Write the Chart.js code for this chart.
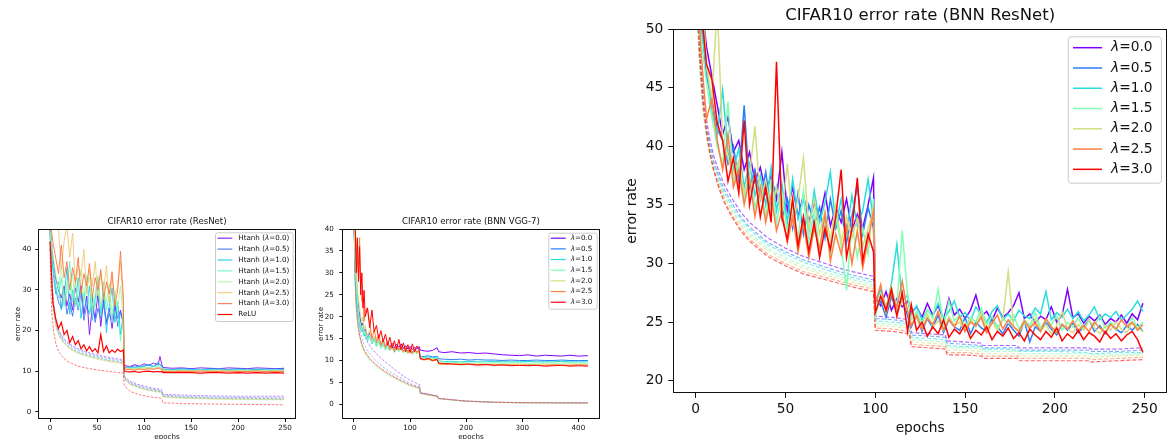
<!DOCTYPE html>
<html>
<head>
<meta charset="utf-8">
<script src="https://cdn.jsdelivr.net/npm/chart.js@4.4.1/dist/chart.umd.min.js"></script>
<style>
  html, body { margin: 0; padding: 0; background: #fff; }
  #figure { position: relative; width: 1167px; height: 439px; overflow: hidden; }
  #figure canvas { position: absolute; left: 0; top: 0; }
</style>
</head>
<body>
<div id="figure">
  <canvas id="resnetChart" width="1167" height="439"></canvas>
  <canvas id="vggChart" width="1167" height="439"></canvas>
  <canvas id="bnnResnetChart" width="1167" height="439"></canvas>
</div>
<script>
// ---- data: CIFAR10 error rate (ResNet) ----
const lambdaLabels = ['0.0', '0.5', '1.0', '1.5', '2.0', '2.5', '3.0'];

const resEpochs = [0,3,6,9,12,15,18,21,24,27,30,33,36,39,42,45,48,51,54,57,60,63,66,69,72,75,78,79,85,90,95,100,105,110,115,117,119,120,130,140,150,160,170,180,190,200,210,220,230,240,249];
const resHtanh00 = [46,38,33,30,28,31,26,29,25,30.5,27,31,24,28.5,19,26,23,29,21,27.5,22,25.5,20.5,26,23,25,21.5,11.4,11.1,11.6,11.2,11.8,11.4,12,11.6,13.6,11.5,10.9,10.7,10.8,10.6,10.8,10.7,10.6,10.8,10.7,10.6,10.8,10.7,10.6,10.7];
const resHtanh05 = [45,36,30.5,27,25.5,30.5,24,27,23.5,28,25,29.5,22.5,26,24,28,22,25.5,23,26.5,21.5,24,22.5,27,21,24.5,22,11,10.9,11.3,11,11.2,11.5,11.1,11.8,11.6,11.2,10.5,10.4,10.6,10.5,10.4,10.6,10.5,10.4,10.6,10.5,10.4,10.5,10.6,10.5];
const resHtanh10 = [44,35,29,32,25,28,35.5,24,30,26,33,23,29,25.5,31,22.5,28,33,24,29.5,19.5,26,30.5,22,27,19,24,10.8,11,10.8,11.1,11.3,11.6,11.2,12.2,11.5,11.1,10.4,10.3,10.5,10.4,10.3,10.4,10.5,10.3,10.4,10.3,10.5,10.4,10.3,10.4];
const resHtanh15 = [44,37,31,28,33,26,30,37,27,32,25.5,30,28,33.5,24,29,26,31,23.5,32,25,28.5,22,29,24,17.5,23,10.7,10.8,10.6,10.9,11,10.8,11.1,11.3,11,10.9,10.3,10.2,10.3,10.2,10.3,10.2,10.3,10.2,10.3,10.2,10.2,10.3,10.2,10.2];
const resHtanh20 = [45,39,34,30,36,27,32,29,34,26,31,35,27,30.5,33,25,29,33.5,26,30,27,31.5,24,28.5,26,31,22,10.6,10.7,10.5,10.8,10.7,10.9,10.6,11,10.8,10.7,10.2,10.1,10.2,10.1,10.2,10.1,10.2,10.1,10.1,10.2,10.1,10.1,10.2,10.1];
const resHtanh25 = [48,45,47,45,35,42,46,38,44,31,36,33.5,40,29,35,31,37,28.5,34,30,36,27,33,28.5,31,37,26,10.5,10.6,10.4,10.7,10.5,10.8,10.6,10.9,10.7,10.6,10.1,10,10.1,10,10.1,10,10.1,10,10.1,10,10.1,10,10.1,10];
const resHtanh30 = [47,42,38,34,41,33,37,30,35.5,32,38,29,34,31,36.5,28,33,30,35,27.5,32,29,34.5,26,30,39.5,28,10.3,10.4,10.2,10.5,10.3,10.6,10.4,10.7,10.5,10.4,9.9,9.9,10,9.9,10,9.9,9.9,10,9.9,9.9,10,9.9,9.9,9.9];
const resRelu = [42,27,23,20.5,22,19,20,17,18.5,16.5,17.5,15.5,16.5,15,16,14.8,15.5,14.5,19,14.8,16.2,14.5,15.2,14.6,15.4,14.8,15.2,9.9,9.8,9.9,9.7,9.9,10,9.8,9.9,9.8,9.9,9.6,9.6,9.7,9.6,9.5,9.6,9.6,9.5,9.6,9.5,9.6,9.5,9.6,9.5];

const resTrainEpochs = [0,1,2,4,6,8,10,14,18,24,30,40,50,60,70,78,79,85,95,105,118,119,120,140,170,200,249];
const resHtanhTrain00 = [46,38,32,26.5,23,21,19.8,18.2,17.2,16.2,15.5,14.6,14,13.5,13.1,12.8,8.8,7.5,6.6,6,5.5,5.3,4.3,4.1,3.9,3.8,3.8];
const resHtanhTrain05 = [45.5,37.5,31.5,26,22.5,20.6,19.4,17.9,16.9,15.9,15.2,14.3,13.7,13.2,12.8,12.5,8.5,7.2,6.3,5.7,5.2,5,4.1,3.8,3.6,3.5,3.4];
const resHtanhTrain10 = [45,37,31,25.5,22,20.2,19,17.5,16.5,15.5,14.8,14,13.4,12.9,12.5,12.2,8.3,7,6.1,5.5,5,4.8,3.9,3.6,3.4,3.3,3.2];
const resHtanhTrain15 = [44.5,36.5,30.5,25,21.6,19.8,18.7,17.2,16.2,15.2,14.5,13.7,13.1,12.6,12.2,11.9,8.1,6.8,5.9,5.3,4.8,4.6,3.7,3.4,3.2,3.1,3];
const resHtanhTrain20 = [44.5,36,30,24.7,21.4,19.6,18.5,17,16,15,14.3,13.5,12.9,12.4,12,11.8,8,6.7,5.8,5.2,4.7,4.5,3.6,3.3,3.1,3,2.9];
const resHtanhTrain25 = [45,36.5,30.3,24.9,21.5,19.7,18.6,17.1,16.1,15.1,14.4,13.6,13,12.5,12.1,11.8,8,6.7,5.8,5.2,4.7,4.5,3.6,3.3,3.1,3,2.95];
const resHtanhTrain30 = [45,37,30.8,25.2,21.8,20,18.8,17.3,16.3,15.3,14.6,13.8,13.2,12.7,12.3,12,8.2,6.9,6,5.4,4.9,4.7,3.8,3.5,3.3,3.2,3.1];
const resReluTrain = [40,30,24,19.5,17,15.5,14.5,13.3,12.5,11.8,11.2,10.7,10.3,10,9.7,9.5,6.5,5,4.2,3.7,3.3,3.1,2.2,2,1.9,1.8,1.7];

const resXTicks = [0, 50, 100, 150, 200, 250];
const resYTicks = [0, 10, 20, 30, 40];

// ---- data: CIFAR10 error rate (BNN VGG-7) ----
const vggEpochs = [0,2,4,6,8,10,12,14,16,18,20,24,28,32,36,40,44,48,52,56,60,64,68,72,76,80,84,88,92,96,100,104,108,112,116,118,125,132,140,148,151,160,175,190,205,220,235,250,265,280,295,310,325,340,355,370,385,400,417];
const vggLam00 = [41,34,29,25,22,20.5,19,18,18.5,16.8,17.2,15.5,16.3,14.6,15.3,14,15,13.5,14.5,13.2,14.1,13,14,12.8,13.7,13,13.8,12.7,13.4,12.6,13.2,12.5,13,12.6,13.2,12.4,12.2,12.1,12.3,12.9,12,11.8,12,11.7,11.8,11.6,11.7,11.5,11.3,11.2,11.1,11.3,11,11.2,11.1,11,11.2,11,11.1];
const vggLam05 = [40,32,27,23,21,19.5,18,17,17.5,16,16.5,15,15.8,14.2,15,13.6,14.5,13,14,12.8,13.5,12.6,13.3,12.3,13,12.4,13,12.2,12.8,12,12.6,11.9,12.5,12,12.4,11,10.9,11.1,10.8,11,10.4,10.3,10.2,10.3,10.1,10.2,10.1,10.1,10,10.1,10,10,10.1,10,10,10.1,10,10,10];
const vggLam10 = [41,31,26,22,20,18,17,16.5,17,15.5,16,14.5,15.5,13.8,14.8,13.2,14.3,12.8,13.7,12.4,13.2,12.2,13,11.9,12.8,12.1,12.7,11.8,12.5,11.7,12.4,11.6,12.2,11.7,12.1,10.8,10.7,10.8,10.6,10.8,9.9,9.8,9.8,9.7,9.8,9.7,9.7,9.8,9.7,9.7,9.7,9.8,9.7,9.7,9.7,9.8,9.7,9.7,9.7];
const vggLam15 = [42,33,28,24,21,19,18,17,18,16,16.5,14.8,15.8,14,15,13.3,14.5,12.8,13.8,12.5,13.3,12.2,13,11.8,12.7,12,12.6,11.7,12.4,11.5,12.2,11.4,12,11.5,12,10.6,10.5,10.6,10.4,10.5,9.7,9.6,9.5,9.6,9.4,9.5,9.4,9.5,9.4,9.4,9.5,9.4,9.4,9.5,9.4,9.4,9.5,9.4,9.4];
const vggLam20 = [43,35,30,26,24,22,20,18.5,20,17,18,15.5,17,14.5,15.5,13.8,15,13.2,14.3,12.8,13.8,12.3,13.5,12,13,12.2,13,11.8,12.7,11.6,12.5,11.5,12.4,11.6,12.2,10.4,10.3,10.4,10.2,10.4,9.4,9.3,9.2,9.3,9.1,9.2,9.1,9.2,9.1,9.1,9.2,9.1,9.1,9.2,9.1,9.1,9.2,9.1,9.1];
const vggLam25 = [44,40,36,33,30,38,26,23.5,24,19,21,22,18.5,15,17,14.5,16,13.5,15,13,14.5,12.5,14,12,13.5,12.5,13.5,12,13,11.8,12.8,11.5,12.7,11.8,12.5,10.3,10.1,10.3,9.9,10.1,9.2,9.1,9.2,9,9.1,8.9,9,9,8.9,9,8.9,9,8.9,8.9,9,8.9,8.9,9,8.9];
const vggLam30 = [45,42,30,38,28,36,25,30,22,26,20,22,17.5,21.5,16.5,18,15,16.8,14.2,16,13.5,15.3,12.8,14.5,12.5,14.8,12.4,14,12,13.6,11.8,13.8,12,13.3,12.5,10.5,10.2,10.5,10,10.3,9.4,9.3,9.2,9.1,9.2,9,9.1,8.9,9,8.8,8.9,8.8,8.9,8.7,8.8,8.9,8.7,8.8,8.7];

const vggTrainEpochs = [1,2,4,6,8,10,14,18,24,30,40,50,60,70,80,90,100,110,117,118,130,149,150,175,200,250,300,417];
const vggTrain00 = [36,31,26,23,21,19.5,17.3,15.8,14.2,13,11.5,10.3,9.2,8.2,7.2,6.3,5.5,4.9,4.5,2.7,2.4,1.9,1.4,1.05,0.75,0.5,0.38,0.33];
const vggTrain05 = [35,29.5,24,20.5,18.5,17,15,13.6,12.3,11.2,9.8,8.7,7.8,7,6.2,5.5,4.8,4.3,4,2.6,2.3,1.85,1.35,1,0.72,0.47,0.36,0.32];
const vggTrain10 = [34,28,22,19,17,15.5,13.5,12.2,11,10,8.8,7.8,7,6.2,5.5,4.9,4.3,3.9,3.6,2.5,2.2,1.8,1.3,1,0.7,0.45,0.35,0.3];
const vggTrain15 = [33.5,27.5,21.6,18.6,16.6,15.1,13.2,11.9,10.7,9.7,8.5,7.5,6.7,6,5.3,4.7,4.1,3.7,3.4,2.3,2.1,1.7,1.25,0.95,0.68,0.43,0.33,0.28];
const vggTrain20 = [33.8,27.8,21.8,18.8,16.8,15.3,13.3,12,10.8,9.8,8.6,7.6,6.8,6.1,5.4,4.8,4.2,3.8,3.5,2.4,2.15,1.75,1.28,0.98,0.69,0.44,0.34,0.29];
const vggTrain25 = [34.2,28.2,22.2,19.2,17.2,15.6,13.6,12.3,11.1,10.1,8.9,7.9,7.1,6.3,5.6,5,4.4,4,3.7,2.55,2.25,1.82,1.32,1.02,0.72,0.46,0.36,0.31];
const vggTrain30 = [34.5,28.5,22.5,19.4,17.4,15.8,13.8,12.4,11.2,10.2,9,8,7.2,6.4,5.7,5.1,4.5,4.05,3.75,2.6,2.3,1.85,1.35,1.03,0.73,0.47,0.37,0.32];

const vggXTicks = [0, 100, 200, 300, 400];
const vggYTicks = [0, 5, 10, 15, 20, 25, 30, 35, 40];

// ---- data: CIFAR10 error rate (BNN ResNet) ----
const bnnEpochs = [0,3,6,9,12,15,18,21,24,27,30,33,36,39,42,45,48,51,54,57,60,63,66,69,72,75,78,81,84,87,90,93,96,99,
  100,103,106,109,112,115,118,
  120,123,126,129,132,135,138,141,144,147,150,153,156,159,162,165,168,171,174,177,180,183,186,189,192,195,198,201,204,207,210,213,216,219,222,225,228,231,234,237,240,243,246,249];
const bnnLam00 = [60,53,48.5,46,43.5,41,42.5,39.5,40.5,38,39.5,37,38.2,36,37.5,35.5,39.5,34.5,36.5,34,35.8,33.5,35.2,33.8,36,33.2,34.8,33.5,35.5,32.8,34.2,33,35,37.3,
  27.2,26.4,27.6,26,27,26.3,26.8,
  25.8,26.3,25.4,26.6,25.6,26.4,25.2,27,25.6,26.1,25.3,26,27.3,25.5,25.9,25.1,26.2,25.4,25.8,26.4,27.5,25.3,25.7,24.9,25.5,25.2,26.3,25,25.6,27.8,25.4,25.7,24.9,25.5,25.1,25.6,24.8,25.3,25,25.6,24.9,25.7,25.2,26.6];
const bnnLam05 = [58,51,46,44,41.5,40.5,38.5,40,37,43.5,36.5,38,35.5,37.8,34.5,36.5,33.8,35.5,33,36,32.5,35,33.3,34.8,32.2,35.5,33,34.5,31.8,34,36.7,32.5,34.8,33,
  26,26.8,25.4,27.2,25.8,27,25.5,
  24.6,25.5,24.2,25.3,24.5,25.6,24.1,25.2,24.6,24.3,25.4,24,25,24.5,24.2,25.3,24.6,24,24.9,24.3,23.8,25.1,23.3,24.6,24.2,25,24.4,23.9,24.8,24.3,24.9,24.1,24.6,25.2,24.2,24.7,24,24.9,24.4,24.1,24.7,24.3,24.8,24.2];
const bnnLam10 = [57,50,47,43,41,44.8,39.5,38,39.8,36.5,38.5,35.8,37.5,35,38.2,34.5,36.8,33.5,37.2,33.8,35.5,32.8,36.2,33.5,35.2,37.8,33.2,35.5,32.5,35.8,33.2,34.5,37.2,33.5,
  26.5,27.8,26.2,28.3,31.6,26.8,27.3,
  25.6,26.4,25.2,26,25.5,26.6,25.3,25.9,26.8,25.4,25.8,25.1,26.3,25.6,25,25.9,26.4,25.2,25.7,25.1,26,25.5,25.3,26.2,25.7,27.6,25.2,25.8,25.4,26.1,25.3,25.9,25.1,25.6,26.3,25.2,25.7,25.4,25.9,25.2,25.6,26.1,26.8,25.9];
const bnnLam15 = [56,49,45.5,42.5,40,38.5,43.8,37,38.5,35.5,37.5,34.8,36.5,34,37,33.5,35.8,32.8,35,32,36.2,31.8,34.5,31.2,33.8,30.8,34.2,31.5,27.7,33.5,30.5,33,30.8,35.5,
  25.5,27.3,26,27.8,26.3,32.8,27.2,
  25.2,25.9,24.8,26.1,25.3,27.8,24.7,26.8,25.1,25.6,24.6,25.4,25,26.2,24.8,25.5,24.5,25.3,24.9,25.6,24.4,25.2,24.7,25.8,24.5,25.1,24.8,25.5,24.3,25,24.6,25.4,24.4,25.1,24.7,25.5,24.5,25,24.3,25.2,24.6,25.4,24.5,25];
const bnnLam20 = [60,55,47,44,52,40.5,39,37.5,38.8,36,37.5,41.7,35.5,37,34.5,36.5,34,38.5,33.5,35.5,39,33,35.5,32.5,34.5,32,35,31.8,34,32.2,33.8,31.5,33,34.5,
  26,27.2,26.3,28,25.6,26.8,26.1,
  24.8,25.4,24.4,25.7,24.6,25.1,24.3,25.5,24.7,25,24.2,25.3,24.6,25.8,24.4,25,24.3,25.2,29.3,24.6,24.1,25,24.4,25.3,24.2,24.8,24,24.7,25.9,24.4,24.1,24.8,24.3,25.2,24.5,24,24.7,24.3,25,24.4,24.1,24.9,24.5,24.2];
const bnnLam25 = [56,48,42.3,44,40.5,38,41,36.5,38,35,37.2,34,36.5,33.5,35.8,32.8,34.5,31.8,34,31,33.5,30.5,33,31.2,34.2,30.2,32.5,30.8,33.2,30,32.8,29.6,32,34.5,
  26.5,28.2,25.8,27.5,26.2,28.5,25.9,
  24.7,25.6,24.4,25.3,24.8,25.9,24.3,25.2,24.6,25.5,24.2,25,24.7,25.4,24.1,24.9,25.6,24.4,25.2,24.6,24.2,25.1,24.5,24.9,24.2,25.3,24.6,24.1,24.8,24.4,25.1,24.3,24.7,24.2,25,24.5,24.1,24.8,24.4,25.2,24.6,25,24.3,24.8];
const bnnLam30 = [57,52,47,45.7,42,40.5,37,39,36,42.2,35,37.5,34,36.5,33.5,47.2,34,32,35.5,31.5,34,31,33.5,30.5,33,31.2,34,38,30.5,33,37.3,30.2,32.5,31,
  25.8,27.2,26,27.8,25.5,27.5,24.2,
  26.5,24.3,25,23.8,24.6,24,25.2,23.7,24.4,24,24.8,23.6,24.3,23.9,24.6,23.5,24.2,23.8,24.5,23.6,24.1,23.4,24.4,23.9,23.5,24.2,23.7,24.5,23.4,24,23.6,24.3,23.5,24.1,23.8,23.3,24.2,23.6,24,23.4,23.9,24.2,23.5,22.4];

const bnnTrainEpochs = [1,2,4,6,8,10,13,16,20,25,30,40,50,60,70,80,90,99,100,110,119,120,130,139,140,150,159,160,170,179,180,200,219,220,235,249];
const bnnTrain00 = [53,49,45,42.3,40.5,39.2,37.8,36.7,35.6,34.4,33.5,32.2,31.3,30.6,30.1,29.6,29.2,28.9,25.5,25.4,25.2,24.1,24,23.9,23.4,23.3,23.2,23,23,23,22.8,22.8,22.8,22.7,22.7,22.8];
const bnnTrain05 = [52,48,44,41.6,40,38.7,37.4,36.3,35.2,34,33.1,31.8,31,30.3,29.8,29.3,28.9,28.6,25.3,25.2,25,23.9,23.8,23.7,23.2,23.1,23,22.8,22.8,22.8,22.6,22.6,22.6,22.5,22.5,22.6];
const bnnTrain10 = [51.5,47.5,43.5,41.2,39.6,38.4,37.1,36,34.9,33.8,32.9,31.6,30.8,30.1,29.6,29.1,28.7,28.4,25.1,25,24.8,23.7,23.6,23.5,23,22.9,22.9,22.7,22.7,22.6,22.5,22.5,22.4,22.3,22.4,22.4];
const bnnTrain15 = [51,47,43,40.8,39.2,38,36.8,35.7,34.6,33.5,32.6,31.3,30.5,29.8,29.3,28.9,28.5,28.2,24.9,24.8,24.6,23.5,23.4,23.3,22.8,22.8,22.7,22.5,22.5,22.5,22.3,22.3,22.3,22.2,22.2,22.3];
const bnnTrain20 = [51.5,47.5,43.3,41,39.3,38.1,36.8,35.6,34.5,33.3,32.4,31.1,30.3,29.6,29.1,28.7,28.3,28,24.7,24.6,24.5,23.3,23.2,23.1,22.6,22.6,22.5,22.3,22.3,22.3,22.1,22.1,22.1,22,22.1,22.2];
const bnnTrain25 = [52,48,43.5,41,39.2,37.9,36.5,35.3,34.2,33,32.1,30.8,30,29.3,28.9,28.5,28.1,27.8,24.5,24.4,24.2,23.1,23,22.9,22.4,22.4,22.3,22.1,22.1,22.1,21.9,21.9,21.9,21.8,21.9,22];
const bnnTrain30 = [53,48.5,44,41.3,39.4,38,36.4,35.2,34,32.8,31.9,30.6,29.8,29.1,28.7,28.3,27.9,27.6,24.3,24.2,24,22.9,22.8,22.7,22.2,22.2,22.1,21.9,21.9,21.9,21.7,21.7,21.7,21.6,21.7,21.8];

const bnnXTicks = [0, 50, 100, 150, 200, 250];
const bnnYTicks = [20, 25, 30, 35, 40, 45, 50];

// ---- helpers ----
const FONT = '"DejaVu Sans", "Liberation Sans", sans-serif';
const INK = '#111';

// matplotlib "rainbow" colormap
function rainbow(t, alpha) {
  const r = Math.min(1, Math.abs(2 * t - 0.5));
  const g = Math.sin(Math.PI * t);
  const b = Math.max(0, Math.cos(Math.PI * t / 2));
  return 'rgba(' + Math.round(r * 255) + ',' + Math.round(g * 255) + ',' + Math.round(b * 255) + ',' + alpha + ')';
}

function xy(xs, ys) {
  return xs.map((x, i) => ({ x: x, y: ys[i] }));
}

function series(label, xs, ys, color, width, order, dash) {
  return {
    label: label, data: xy(xs, ys), borderColor: color, backgroundColor: color,
    borderWidth: width, borderDash: dash || [], pointRadius: 0, fill: false, tension: 0, order: order
  };
}

function drawLabel(ctx, text, x, y, size) {
  const parts = text.split('λ');
  ctx.textBaseline = 'middle';
  ctx.textAlign = 'left';
  ctx.fillStyle = INK;
  parts.forEach((p, i) => {
    if (i > 0) {
      ctx.font = 'italic ' + size + 'px ' + FONT;
      ctx.fillText('λ', x, y);
      x += ctx.measureText('λ').width;
    }
    ctx.font = size + 'px ' + FONT;
    ctx.fillText(p, x, y);
    x += ctx.measureText(p).width;
  });
}

// box around the axes, like matplotlib spines
const framePlugin = {
  id: 'frame',
  afterDatasetsDraw(chart) {
    const a = chart.chartArea, ctx = chart.ctx;
    const l = Math.round(a.left) + 0.5, t = Math.round(a.top) + 0.5;
    const r = Math.round(a.right) - 0.5, b = Math.round(a.bottom) - 0.5;
    ctx.save();
    ctx.strokeStyle = INK;
    ctx.lineWidth = 1;
    ctx.strokeRect(l, t, r - l, b - t);
    ctx.restore();
  }
};

// legend box inside the axes (upper right)
const boxLegendPlugin = {
  id: 'boxLegend',
  afterDraw(chart, args, o) {
    const ctx = chart.ctx;
    const items = chart.data.datasets.filter(d => d.label);
    ctx.save();
    ctx.beginPath();
    if (ctx.roundRect) ctx.roundRect(o.left + 0.5, o.top + 0.5, o.width, o.height, o.radius);
    else ctx.rect(o.left + 0.5, o.top + 0.5, o.width, o.height);
    ctx.fillStyle = 'rgba(255,255,255,0.85)';
    ctx.fill();
    ctx.strokeStyle = '#cccccc';
    ctx.lineWidth = 1;
    ctx.stroke();
    items.forEach((d, i) => {
      const y = o.firstRow + i * o.row;
      ctx.beginPath();
      ctx.setLineDash([]);
      ctx.strokeStyle = d.borderColor;
      ctx.lineWidth = o.lineWidth;
      ctx.moveTo(o.lineFrom, y);
      ctx.lineTo(o.lineTo, y);
      ctx.stroke();
      drawLabel(ctx, d.label, o.textX, y, o.size);
    });
    ctx.restore();
  }
};

function axis(o) {
  return {
    type: 'linear', bounds: 'data', min: o.min, max: o.max,
    afterBuildTicks: s => { s.ticks = o.ticks.map(v => ({ value: v })); },
    afterFit: s => { if (o.width) s.width = o.width; if (o.height) s.height = o.height; },
    grid: { drawOnChartArea: false, drawTicks: true, tickLength: o.tickLen, color: INK, lineWidth: 1 },
    border: { display: false },
    ticks: { autoSkip: false, maxRotation: 0, minRotation: 0, padding: o.pad, color: INK, font: { family: FONT, size: o.size } },
    title: { display: true, text: o.title, color: INK, padding: 0, font: { family: FONT, size: o.size, lineHeight: 1.2 } }
  };
}

function drawPanel(id, p) {
  return new Chart(document.getElementById(id).getContext('2d'), {
    type: 'line',
    data: { datasets: p.datasets },
    options: {
      responsive: false, animation: false, devicePixelRatio: 1, events: [],
      layout: { padding: p.padding },
      plugins: {
        legend: { display: false },
        tooltip: { enabled: false },
        title: {
          display: true, text: p.title, fullSize: false, color: INK,
          padding: { top: 0, bottom: p.titleGap },
          font: { family: FONT, size: p.titleSize, weight: 'normal', lineHeight: 1.2 }
        },
        boxLegend: p.legend
      },
      scales: { x: axis(p.x), y: axis(p.y) }
    },
    plugins: [framePlugin, boxLegendPlugin]
  });
}

// ---- left: ResNet ----
const resTest = [resHtanh00, resHtanh05, resHtanh10, resHtanh15, resHtanh20, resHtanh25, resHtanh30];
const resTrain = [resHtanhTrain00, resHtanhTrain05, resHtanhTrain10, resHtanhTrain15, resHtanhTrain20, resHtanhTrain25, resHtanhTrain30];
const resSets = [];
resTest.forEach((ys, i) => resSets.push(series('Htanh (λ=' + lambdaLabels[i] + ')', resEpochs, ys, rainbow(i / 7, 0.85), 1, 10 - i)));
resSets.push(series('ReLU', resEpochs, resRelu, rainbow(1, 1), 1.2, 0));
resTrain.forEach((ys, i) => resSets.push(series('', resTrainEpochs, ys, rainbow(i / 7, 0.55), 0.9, 30 - i, [2.5, 1.5])));
resSets.push(series('', resTrainEpochs, resReluTrain, rainbow(1, 0.6), 0.9, 20, [2.5, 1.5]));

drawPanel('resnetChart', {
  title: 'CIFAR10 error rate (ResNet)', titleSize: 8.6, titleGap: 1.84,
  padding: { left: 14, right: 871.2, top: 216.84, bottom: -2 },
  x: { min: -12.45, max: 261.45, ticks: resXTicks, height: 22, tickLen: 3, pad: 1.7, size: 7.15, title: 'epochs' },
  y: { min: -1.8, max: 45, ticks: resYTicks, width: 24.3, tickLen: 3, pad: 4, size: 7.15, title: 'error rate' },
  legend: { left: 215, top: 232.3, width: 77.7, height: 88.7, radius: 2, firstRow: 238.2, row: 10.9,
            lineFrom: 217.5, lineTo: 232.3, textX: 238.3, size: 7.15, lineWidth: 1.2 },
  datasets: resSets
});

// ---- middle: BNN VGG-7 ----
const vggTest = [vggLam00, vggLam05, vggLam10, vggLam15, vggLam20, vggLam25, vggLam30];
const vggTrain = [vggTrain00, vggTrain05, vggTrain10, vggTrain15, vggTrain20, vggTrain25, vggTrain30];
const vggSets = [];
vggTest.forEach((ys, i) => vggSets.push(series('λ=' + lambdaLabels[i], vggEpochs, ys, rainbow(i / 6, 1), 1, 6 - i)));
vggTrain.forEach((ys, i) => vggSets.push(series('', vggTrainEpochs, ys, rainbow(i / 6, 0.55), 0.9, 30 - i, [2.5, 1.5])));

drawPanel('vggChart', {
  title: 'CIFAR10 error rate (BNN VGG-7)', titleSize: 8.6, titleGap: 1.84,
  padding: { left: 316.4, right: 567.4, top: 216.84, bottom: -2 },
  x: { min: -20.85, max: 437.85, ticks: vggXTicks, height: 22, tickLen: 3, pad: 1.7, size: 7.15, title: 'epochs' },
  y: { min: -3.35, max: 40, ticks: vggYTicks, width: 25.9, tickLen: 3, pad: 5.5, size: 7.15, title: 'error rate' },
  legend: { left: 548.3, top: 232.7, width: 48.4, height: 76, radius: 2, firstRow: 238.2, row: 10.67,
            lineFrom: 550.7, lineTo: 565.7, textX: 570.7, size: 7.15, lineWidth: 1.2 },
  datasets: vggSets
});

// ---- right: BNN ResNet ----
const bnnTest = [bnnLam00, bnnLam05, bnnLam10, bnnLam15, bnnLam20, bnnLam25, bnnLam30];
const bnnTrain = [bnnTrain00, bnnTrain05, bnnTrain10, bnnTrain15, bnnTrain20, bnnTrain25, bnnTrain30];
const bnnSets = [];
bnnTest.forEach((ys, i) => bnnSets.push(series('λ=' + lambdaLabels[i], bnnEpochs, ys, rainbow(i / 6, 1), 1.5, 6 - i)));
bnnTrain.forEach((ys, i) => bnnSets.push(series('', bnnTrainEpochs, ys, rainbow(i / 6, 0.6), 1.2, 30 - i, [4, 2])));

drawPanel('bnnResnetChart', {
  title: 'CIFAR10 error rate (BNN ResNet)', titleSize: 16.5, titleGap: 3.6,
  padding: { left: 623.75, right: -1, top: 5.6, bottom: 2.75 },
  x: { min: -12.45, max: 262.4, ticks: bnnXTicks, height: 43.25, tickLen: 5, pad: 3.2, size: 13.75, title: 'epochs' },
  y: { min: 18.95, max: 50, ticks: bnnYTicks, width: 49.55, tickLen: 5, pad: 5, size: 13.75, title: 'error rate' },
  legend: { left: 1067.7, top: 36.3, width: 93.3, height: 146.4, radius: 3, firstRow: 47.7, row: 20.27,
            lineFrom: 1073, lineTo: 1102, textX: 1111, size: 13.75, lineWidth: 1.5 },
  datasets: bnnSets
});
</script>
</body>
</html>
